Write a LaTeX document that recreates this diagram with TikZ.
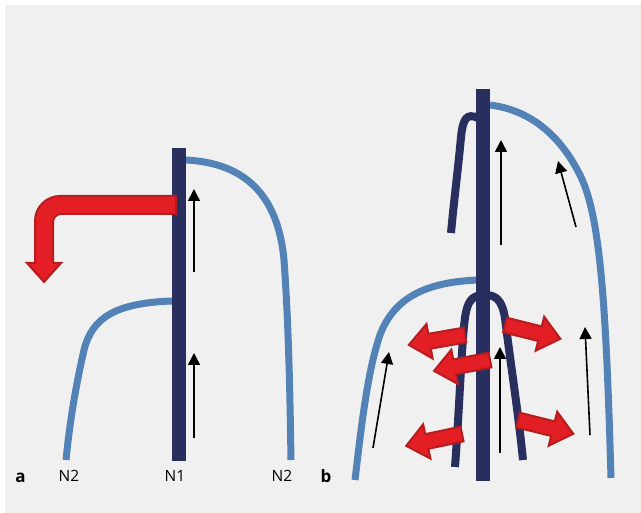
\documentclass[tikz,border=0pt]{standalone}
\usepackage{fontspec}
\setmainfont{Open Sans}
\usetikzlibrary{arrows.meta}
\definecolor{bg}{RGB}{240,240,240}
\definecolor{navy}{RGB}{40,46,94}
\definecolor{lblue}{RGB}{82,130,182}
\definecolor{rfill}{RGB}{227,30,36}
\definecolor{rline}{RGB}{183,28,31}
\tikzset{
  nerve2/.style={draw=lblue,line width=7pt},
  branch1/.style={draw=navy,line width=8pt},
  bar/.style={fill=navy,draw=none},
  flow/.style={draw=black,line width=1.6pt,-{Triangle[length=12pt,width=12pt]}},
  redarrow/.style={fill=rfill,draw=rline,line width=2pt,line join=miter},
  lbl/.style={font=\fontsize{15.5}{18}\selectfont,inner sep=0pt},
  panel/.style={font=\fontsize{17}{20}\selectfont\bfseries,inner sep=0pt},
  barrow/.pic={\draw[redarrow] (0,-7.5) -- (36,-7.5) -- (36,-17.5) -- (57,0) -- (36,17.5) -- (36,7.5) -- (0,7.5) -- cycle;}
}
\begin{document}
\begin{tikzpicture}[x=1pt,y=1pt]
\useasboundingbox (0,0) rectangle (641,-513);
\fill[white] (0,0) rectangle (641,-513);
\fill[bg] (5,-5) rectangle (641,-513);

% ---------- panel a ----------
\draw[nerve2] (186,-160) .. controls (245,-163) and (278,-195) .. (284,-260) .. controls (289,-330) and (290,-400) .. (291,-460);
\draw[nerve2] (172,-301) .. controls (115,-303) and (92,-318) .. (84,-350) .. controls (76,-385) and (70,-420) .. (66,-460);
\fill[bar] (172,-148) rectangle (186,-461);
\draw[flow] (194,-272) -- (194,-189);
\draw[flow] (194,-438) -- (194,-353);
\draw[redarrow] (176,-196) -- (60,-196) arc[start angle=90,end angle=180,radius=25] -- (35,-263) -- (27,-263) -- (44,-282) -- (61,-263) -- (53,-263) -- (53,-222) arc[start angle=180,end angle=90,radius=8] -- (176,-214) -- cycle;

% ---------- panel b ----------
\draw[nerve2] (490,-105) .. controls (530,-110) and (560,-135) .. (580,-175) .. controls (600,-215) and (606,-300) .. (611,-478);
\draw[nerve2] (478,-280) .. controls (430,-282) and (395,-295) .. (380,-335) .. controls (368,-370) and (362,-420) .. (355,-480);
\draw[branch1] (478,-118) .. controls (467,-113) and (463,-118) .. (461,-137) .. controls (458,-170) and (454,-200) .. (451,-233);
\draw[branch1] (455,-467) .. controls (460,-400) and (462,-330) .. (466,-312) .. controls (469,-298) and (475,-295) .. (485,-295) .. controls (496,-295) and (502,-300) .. (505,-318) .. controls (510,-360) and (518,-410) .. (523,-460);
\fill[bar] (476,-89) rectangle (490,-481);
\draw[flow] (501,-245) -- (501,-140);
\draw[flow] (576,-227) -- (558,-161);
\draw[flow] (500,-453) -- (500,-347);
\draw[flow] (590,-435) -- (585,-327);
\draw[flow] (373,-448) -- (389,-352);
\path (465,-335) pic[rotate=190] {barrow};
\path (490,-360) pic[rotate=191] {barrow};
\path (462,-434) pic[rotate=192] {barrow};
\path (505,-325) pic[rotate=-14] {barrow};
\path (518,-420) pic[rotate=-14] {barrow};

% ---------- labels ----------
\node[panel] (la) at (20.5,-478) {a};
\node[panel] (lb) at (326,-476) {b};
\node[lbl] (n2a) at (69,-476) {N2};
\node[lbl] (n1) at (175,-476) {N1};
\node[lbl] (n2b) at (282,-476) {N2};
\end{tikzpicture}
\end{document}
